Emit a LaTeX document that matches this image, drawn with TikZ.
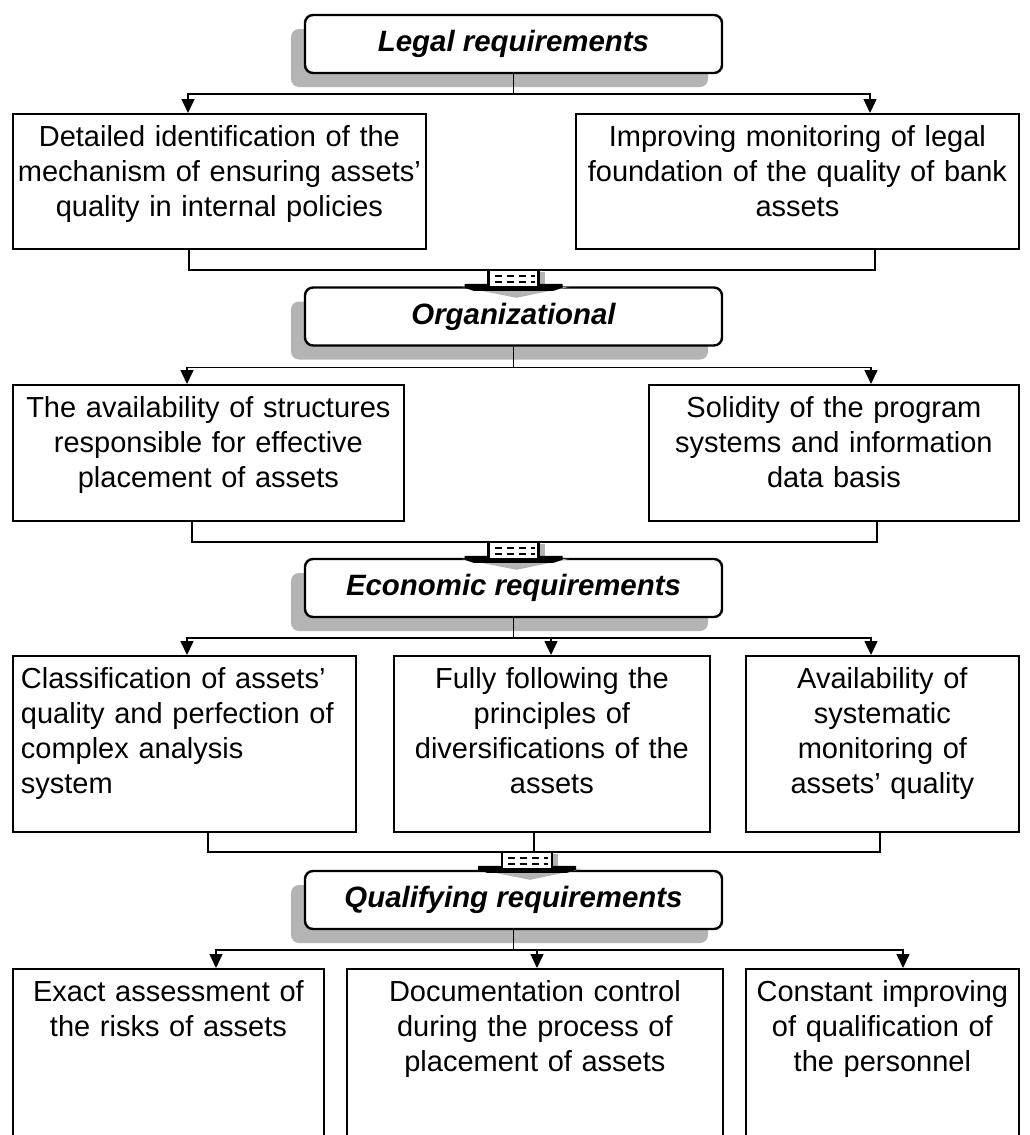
\documentclass[tikz,border=0pt]{standalone}
\usepackage{fontspec}
\setmainfont{Liberation Sans}
\usepackage{xcolor}
\definecolor{shadowgray}{HTML}{B4B4B4}
\usetikzlibrary{arrows.meta, positioning, calc, shadows}
\hyphenpenalty=10000
\newcommand{\blockarrow}[1]{%
  \begin{scope}[shift={(#1)}]
    \fill[shadowgray] (-52,17) -- (56,17) -- (3,28) -- cycle;
    \fill[shadowgray] (25,2) rectangle (31,17);
    \fill (-49,14) -- (49,14) -- (49,18) -- (40,21) -- (-40,21) -- (-49,18) -- cycle;
    \draw[line width=1.1pt, fill=white] (-25,0) rectangle (25,17);
    \draw[line width=0.8pt, dash pattern=on 3.5pt off 2.5pt] (-19,6) -- (21,6) (-19,12) -- (21,12);
  \end{scope}}

\begin{document}
\begin{tikzpicture}[
    x=0.5pt, y=-0.5pt,
    head/.style={rectangle, draw, line width=1.2pt, rounded corners=4pt, fill=white,
        minimum width=208.5pt, minimum height=29pt,
        font=\fontsize{14.7}{17.5}\selectfont\bfseries\itshape,
        drop shadow={shadow xshift=-7pt, shadow yshift=-7pt, fill=shadowgray, opacity=1}},
    cell/.style={rectangle, draw, line width=0.9pt, anchor=north west, align=center,
        inner xsep=2pt, inner ysep=5.5pt, text height=11pt,
        font=\fontsize{14.5}{17.5}\selectfont},
    link/.style={line width=0.75pt},
    arr/.style={link, -{Triangle[length=7pt, width=6.5pt]}}
]
\clip (0,0) rectangle (1029,1135);

\node[head] (legal) at (513.5,44) {Legal requirements};
\node[cell, inner xsep=1pt, text width=204.5pt, text depth=45.5pt] (l1) at (12,113)
    {Detailed identification of the\\ mechanism of ensuring assets'\\ quality in internal policies};
\node[cell, text width=217.5pt, text depth=45.5pt] (l2) at (575,113)
    {Improving monitoring of legal\\ foundation of the quality of bank\\ assets};

\node[head] (org) at (513.5,316.5) {Organizational};
\node[cell, text width=191.5pt, text depth=46pt] (o1) at (12,384)
    {The availability of structures\\ responsible for effective\\ placement of assets};
\node[cell, text width=181pt, text depth=46pt] (o2) at (648,384)
    {Solidity of the program\\ systems and information\\ data basis};

\node[head] (econ) at (513.5,588) {Economic requirements};
\node[cell, align=left, inner xsep=4pt, text width=163.5pt, text depth=66pt] (e1) at (12,655)
    {Classification of assets'\\ quality and perfection of\\ complex analysis\\ system};
\node[cell, text width=154pt, text depth=66pt] (e2) at (393,655)
    {Fully following the\\ principles of\\ diversifications of the\\ assets};
\node[cell, text width=132.5pt, text depth=66pt] (e3) at (745,655)
    {Availability of\\ systematic\\ monitoring of\\ assets' quality};

\node[head] (qual) at (513.5,900) {Qualifying requirements};
\node[cell, text width=151.5pt, text depth=73pt] (q1) at (12,968)
    {Exact assessment of\\ the risks of assets};
\node[cell, text width=184pt, text depth=73pt] (q2) at (346,968)
    {Documentation control\\ during the process of\\ placement of assets};
\node[cell, text width=132.5pt, text depth=73pt] (q3) at (745,968)
    {Constant improving\\ of qualification of\\ the personnel};

\draw[link] (legal.south) -- ++(0,20) coordinate (j1);
\draw[arr] (j1) -| ([xshift=88pt]l1.north west);
\draw[arr] (j1) -| ([xshift=147.5pt]l2.north west);
\draw[link] ([xshift=88.5pt]l1.south west) -- ++(0,20) coordinate (m1) -| ([xshift=150pt]l2.south west);

\draw[link] (org.south) -- ++(0,21) coordinate (j2);
\draw[arr] (j2) -| ([xshift=87.5pt]o1.north west);
\draw[arr] (j2) -| ([xshift=111.5pt]o2.north west);
\draw[link] ([xshift=90pt]o1.south west) -- ++(0,20) coordinate (m2) -| ([xshift=114.5pt]o2.south west);

\draw[link] (econ.south) -- ++(0,20) coordinate (j3);
\draw[arr] (j3) -| ([xshift=87.5pt]e1.north west);
\draw[arr] (j3) -| ([xshift=79pt]e2.north west);
\draw[arr] (j3) -| ([xshift=63pt]e3.north west);
\draw[link] ([xshift=98pt]e1.south west) -- ++(0,19) coordinate (m3) -| ([xshift=67.5pt]e3.south west);
\draw[link] ([xshift=70.5pt]e2.south west) -- ++(0,19);

\draw[link] (qual.south) -- ++(0,20) coordinate (j4);
\draw[arr] (j4) -| ([xshift=102pt]q1.north west);
\draw[arr] (j4) -| ([xshift=95.5pt]q2.north west);
\draw[arr] (j4) -| ([xshift=79pt]q3.north west);

\blockarrow{m1 -| legal.south}
\blockarrow{m2 -| org.south}
\coordinate (b3) at ($(m3 -| econ.south)+(13.5,0)$);
\blockarrow{b3}
\end{tikzpicture}
\end{document}
